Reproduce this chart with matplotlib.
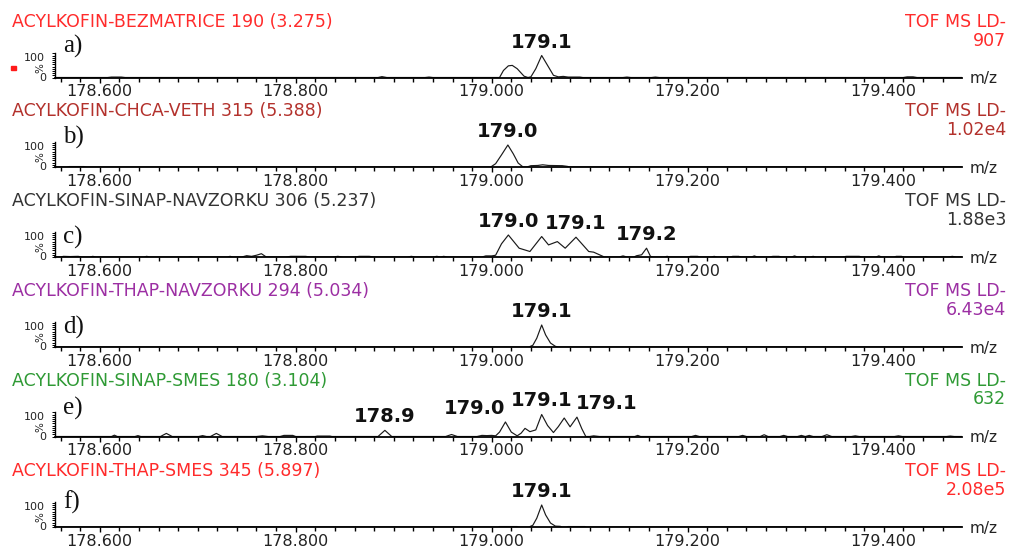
import matplotlib
matplotlib.use("Agg")
import matplotlib.pyplot as plt
import numpy as np
from matplotlib.ticker import FixedLocator

# ---------------------------------------------------------------- data
titles = [
    "ACYLKOFIN-BEZMATRICE 190 (3.275)",
    "ACYLKOFIN-CHCA-VETH 315 (5.388)",
    "ACYLKOFIN-SINAP-NAVZORKU 306 (5.237)",
    "ACYLKOFIN-THAP-NAVZORKU 294 (5.034)",
    "ACYLKOFIN-SINAP-SMES 180 (3.104)",
    "ACYLKOFIN-THAP-SMES 345 (5.897)",
]
scale_labels = ["907", "1.02e4", "1.88e3", "6.43e4", "632", "2.08e5"]
panel_letters = ["a)", "b)", "c)", "d)", "e)", "f)"]
title_colors = ["#ff2b2b", "#b3312c", "#333333", "#9c2fa3", "#2f9a35", "#ff2b2b"]

# profile spectra: m/z and relative intensity (%)
mz_a = [178.554, 178.608, 178.612, 178.622, 178.626, 178.884, 178.888, 178.893,
        178.932, 178.936, 178.940, 179.008, 179.012, 179.017, 179.021, 179.026,
        179.033, 179.037, 179.040, 179.045, 179.051, 179.057, 179.063, 179.068,
        179.073, 179.078, 179.090, 179.093, 179.134, 179.138, 179.142, 179.163,
        179.167, 179.171, 179.420, 179.424, 179.430, 179.434, 179.4795]
int_a = [0, 0, 2, 2, 0, 0, 4, 0,
         0, 2, 0, 0, 32, 53, 55, 40,
         6, 0, 3, 40, 100, 55, 10, 3,
         5, 2, 2, 0, 0, 2, 0, 0,
         2, 0, 0, 3, 3, 0, 0]

mz_b = [178.554, 178.566, 178.569, 178.584, 178.587, 178.999, 179.004, 179.010,
        179.0165, 179.022, 179.027, 179.032, 179.036, 179.040, 179.047, 179.052,
        179.058, 179.072, 179.077, 179.080, 179.4795]
int_b = [0, 0, 2, 2, 0, 0, 15, 55,
         100, 60, 18, 0, 0, 6, 7, 10,
         7, 6, 3, 0, 0]

mz_c = [178.554, 178.560, 178.563, 178.570, 178.578, 178.582, 178.590, 178.593,
        178.596, 178.645, 178.648, 178.651, 178.690, 178.693, 178.696, 178.730,
        178.733, 178.736, 178.745, 178.750, 178.755, 178.760, 178.765, 178.770,
        178.790, 178.795, 178.810, 178.815, 178.838, 178.843, 178.848, 178.860,
        178.865, 178.875, 178.880, 178.914, 178.918, 178.922, 178.940, 178.944,
        178.948, 178.951, 178.955, 178.990, 178.994, 179.000, 179.004, 179.010,
        179.017, 179.028, 179.039, 179.051, 179.058, 179.067, 179.075, 179.086,
        179.099, 179.104, 179.115, 179.130, 179.134, 179.138, 179.145, 179.148,
        179.153, 179.158, 179.162, 179.165, 179.176, 179.179, 179.182, 179.200,
        179.203, 179.210, 179.213, 179.224, 179.227, 179.230, 179.243, 179.246,
        179.252, 179.255, 179.265, 179.268, 179.271, 179.283, 179.287, 179.293,
        179.296, 179.306, 179.309, 179.312, 179.325, 179.328, 179.331, 179.358,
        179.362, 179.375, 179.378, 179.392, 179.395, 179.398, 179.410, 179.413,
        179.418, 179.421, 179.440, 179.443, 179.446, 179.466, 179.470, 179.474,
        179.4795]
int_c = [0, 0, 3, 2, 3, 0, 0, 3,
         0, 0, 3, 0, 0, 2, 0, 0,
         3, 0, 0, 6, 3, 8, 15, 0,
         0, 3, 3, 0, 0, 3, 0, 0,
         3, 3, 0, 0, 3, 0, 0, 3,
         0, 3, 0, 0, 5, 5, 8, 60,
         100, 40, 25, 93, 55, 70, 40, 90,
         25, 22, 0, 0, 5, 0, 0, 6,
         10, 40, 3, 0, 0, 3, 0, 0,
         3, 3, 0, 0, 3, 0, 0, 3,
         3, 0, 0, 5, 0, 0, 3, 3,
         0, 0, 5, 0, 0, 3, 0, 0,
         3, 3, 0, 0, 5, 0, 0, 3,
         3, 0, 0, 2, 0, 0, 3, 0,
         0]

mz_d = [178.554, 179.038, 179.042, 179.046, 179.051, 179.055, 179.060, 179.065,
        179.068, 179.4795]
int_d = [0, 0, 8, 40, 100, 55, 18, 3, 0, 0]

mz_e = [178.554, 178.612, 178.615, 178.618, 178.636, 178.639, 178.642, 178.662,
        178.668, 178.674, 178.701, 178.705, 178.709, 178.713, 178.719, 178.725,
        178.760, 178.766, 178.772, 178.784, 178.788, 178.792, 178.797, 178.800,
        178.820, 178.822, 178.835, 178.837, 178.884, 178.891, 178.898, 178.953,
        178.959, 178.965, 178.985, 178.990, 178.995, 179.000, 179.004, 179.008,
        179.014, 179.020, 179.026, 179.030, 179.034, 179.039, 179.045, 179.051,
        179.057, 179.063, 179.068, 179.074, 179.080, 179.087, 179.092, 179.096,
        179.100, 179.104, 179.110, 179.146, 179.149, 179.152, 179.204, 179.208,
        179.212, 179.252, 179.256, 179.260, 179.274, 179.278, 179.282, 179.294,
        179.298, 179.302, 179.312, 179.316, 179.320, 179.324, 179.328, 179.337,
        179.342, 179.347, 179.367, 179.371, 179.375, 179.411, 179.415, 179.419,
        179.464, 179.468, 179.472, 179.4795]
int_e = [0, 0, 6, 0, 0, 4, 0, 0,
         14, 0, 0, 4, 0, 0, 14, 0,
         0, 3, 0, 0, 5, 5, 5, 0,
         0, 2, 2, 0, 0, 28, 0, 0,
         9, 0, 0, 5, 4, 5, 3, 20,
         66, 20, 3, 15, 37, 22, 30, 100,
         50, 18, 45, 84, 44, 88, 35, 0,
         0, 3, 0, 0, 5, 0, 0, 5,
         0, 0, 5, 0, 0, 8, 0, 0,
         5, 0, 0, 5, 0, 5, 0, 0,
         8, 0, 0, 3, 0, 0, 3, 0,
         0, 2, 0, 0]

mz_f = [178.554, 179.006, 179.008, 179.026, 179.028, 179.038, 179.042, 179.046,
        179.051, 179.055, 179.060, 179.065, 179.070, 179.072, 179.076, 179.078,
        179.095, 179.097, 179.4795]
int_f = [0, 0, 2, 2, 0, 0, 8, 40,
         100, 55, 18, 4, 3, 0, 0, 2,
         2, 0, 0]

spectra = [(mz_a, int_a), (mz_b, int_b), (mz_c, int_c),
           (mz_d, int_d), (mz_e, int_e), (mz_f, int_f)]

# labelled peak centroids per panel
peak_mz = [
    [179.051],
    [179.0165],
    [179.017, 179.086, 179.158],
    [179.051],
    [178.891, 179.014, 179.051, 179.087],
    [179.051],
]

# ---------------------------------------------------------------- layout
W, H = 1013, 548
fig = plt.figure(figsize=(W / 100, H / 100), dpi=100)
fig.patch.set_facecolor("white")

def fx(px):
    return px / W

def fy(py):
    return 1 - py / H

baselines = [77.5, 167.0, 257.0, 347.0, 436.5, 527.0]
letter_rise = [31, 30, 20, 20, 28, 25]
label_shift = [[0], [0], [0, 0, 0], [0], [0, -31, 0, 30], [0]]

AX_LEFT, AX_RIGHT = 55, 962
XMIN = 178.6 - 44.7 / 980.0
XMAX = XMIN + (AX_RIGHT - AX_LEFT) / 980.0
AX_H = 25.0           # pixel height of the intensity axis
FULL = 22.0           # pixel height of a 100 % peak
YMAX = 100 * AX_H / FULL

major = [178.6, 178.8, 179.0, 179.2, 179.4]
minor = [178.56 + 0.02 * i for i in range(46)]

for i, (mz, inten) in enumerate(spectra):
    yb = baselines[i]
    ax = fig.add_axes([fx(AX_LEFT), fy(yb), fx(AX_RIGHT) - fx(AX_LEFT), AX_H / H])
    ax.set_facecolor("none")
    ax.plot(mz, inten, color="#1a1a1a", lw=0.85, solid_joinstyle="round")
    ax.set_xlim(XMIN, XMAX)
    ax.set_ylim(0, YMAX)
    for s in ("top", "right"):
        ax.spines[s].set_visible(False)
    ax.spines["bottom"].set_linewidth(1.3)
    ax.spines["left"].set_linewidth(1.0)
    ax.xaxis.set_major_locator(FixedLocator(major))
    ax.xaxis.set_minor_locator(FixedLocator(minor))
    ax.set_xticklabels([f"{v:.3f}" for v in major])
    ax.tick_params(axis="x", which="major", length=3.6, width=1.0, pad=1.2,
                   labelsize=11.5, labelcolor="#222222", direction="out")
    ax.tick_params(axis="x", which="minor", length=2.8, width=1.0, direction="out")
    ax.yaxis.set_major_locator(FixedLocator(np.arange(0, 111, 10)))
    ax.tick_params(axis="y", which="major", length=2.0, width=0.7,
                   labelleft=False, direction="out")

    # peak annotations
    for mzp, dx in zip(peak_mz[i], label_shift[i]):
        h = np.interp(mzp, mz, inten)
        ax.annotate(f"{mzp:.1f}", xy=(mzp, h), xytext=(dx * 0.72, 4 * 0.72),
                    textcoords="offset points", ha="center", va="bottom",
                    fontsize=14, fontweight="bold", color="#111111",
                    annotation_clip=False)

    # run header and scale
    fig.text(fx(12), fy(yb - 55.5), titles[i], color=title_colors[i],
             fontsize=12.5, ha="left", va="center")
    fig.text(fx(1006), fy(yb - 55.5), "TOF MS LD-", color=title_colors[i],
             fontsize=12.5, ha="right", va="center")
    fig.text(fx(1006), fy(yb - 37), scale_labels[i], color=title_colors[i],
             fontsize=12.5, ha="right", va="center")

    # intensity scale captions
    fig.text(fx(45), fy(yb - 19.5), "100", fontsize=8, ha="right", va="center",
             color="#222222")
    fig.text(fx(40), fy(yb - 9.5), "%", fontsize=7.5, ha="center", va="center",
             rotation=90, color="#222222")
    fig.text(fx(43), fy(yb + 0.5), "0", fontsize=8, ha="center", va="center",
             color="#222222")
    fig.text(fx(970), fy(yb + 1), "m/z", fontsize=11, ha="left", va="center",
             color="#222222")

    # panel letter
    fig.text(fx(63), fy(yb - letter_rise[i]), panel_letters[i],
             family="Liberation Serif", fontsize=18, ha="left", va="center",
             color="#111111")

# small red marker at the first trace
fig.patches.append(plt.Rectangle((fx(11), fy(70)), 5 / W, 4 / H,
                                 transform=fig.transFigure, color="#ff1a1a"))

fig.savefig("out.png", dpi=100)
